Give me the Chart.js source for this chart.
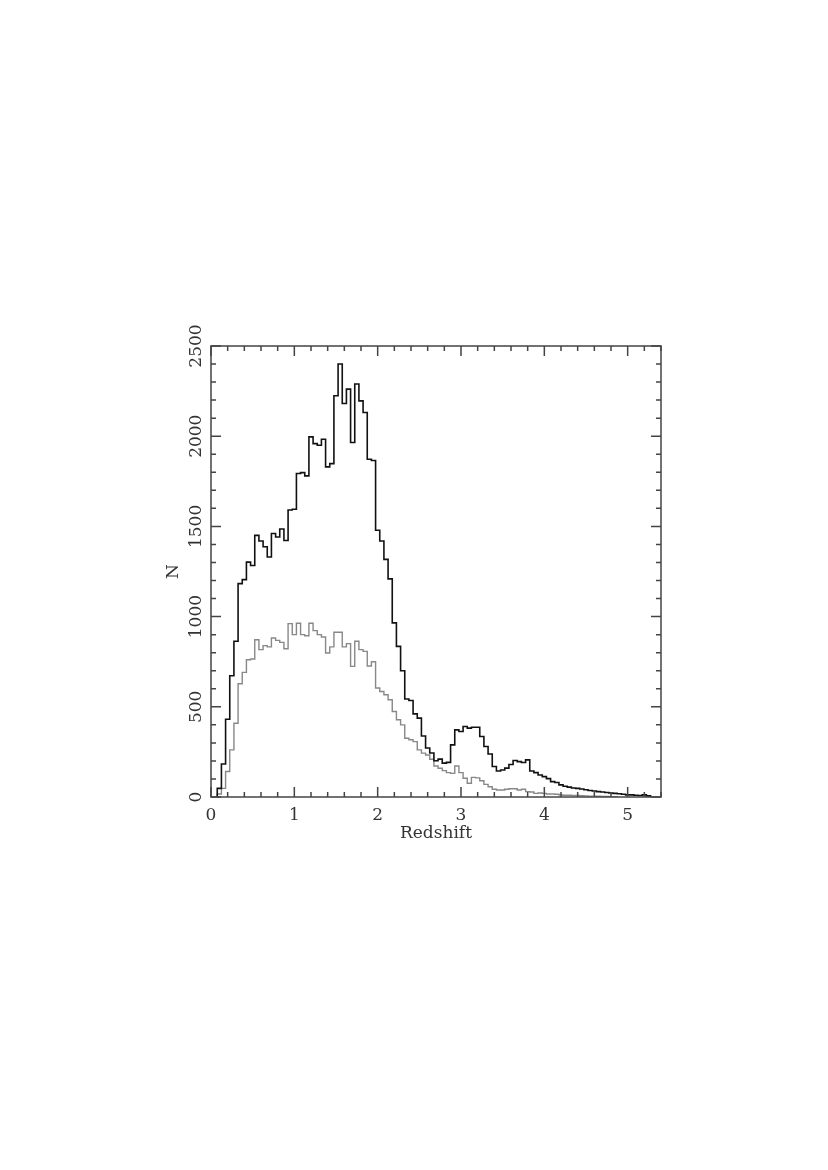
<!DOCTYPE html>
<html>
<head>
<meta charset="utf-8">
<title>Redshift distribution</title>
<script src="https://cdn.jsdelivr.net/npm/chart.js@4.4.0/dist/chart.umd.min.js"></script>
<style>
  html, body { margin: 0; padding: 0; background: #fff; }
  canvas { display: block; }
</style>
</head>
<body>
<canvas id="zChart" width="828" height="1170"></canvas>
<script>
// ========================================
// Redshift histogram (all objects vs. subsample)
// ========================================

// Histogram bins: centre of the first bin and bin width (redshift units)
const binFirstCentre = 0.1;
const binWidth = 0.05;

// Counts per bin
const allCounts = [
  48, 183, 431, 672, 863, 1183, 1205, 1302, 1283, 1450,
  1419, 1387, 1330, 1461, 1441, 1486, 1422, 1591, 1595, 1793,
  1798, 1780, 1996, 1959, 1950, 1983, 1830, 1848, 2224, 2400,
  2181, 2261, 1965, 2289, 2196, 2131, 1872, 1865, 1479, 1419,
  1317, 1209, 965, 835, 700, 543, 535, 461, 437, 338,
  272, 244, 201, 210, 188, 192, 289, 372, 363, 391,
  382, 387, 387, 335, 280, 238, 169, 144, 150, 160,
  180, 202, 196, 191, 206, 144, 135, 122, 113, 102,
  85, 80, 67, 60, 55, 50, 48, 44, 40, 36,
  33, 30, 28, 25, 22, 20, 18, 15, 12, 12,
  10, 8, 12, 6
];

const subCounts = [
  17, 48, 141, 261, 409, 628, 691, 761, 765, 872,
  817, 839, 832, 881, 868, 857, 822, 961, 900, 963,
  900, 894, 963, 922, 900, 887, 798, 832, 913, 913,
  832, 850, 724, 863, 817, 807, 726, 750, 604, 585,
  567, 539, 474, 428, 400, 326, 317, 307, 261, 243,
  233, 209, 172, 159, 146, 135, 131, 172, 135, 104,
  76, 109, 106, 90, 70, 57, 43, 39, 39, 43,
  46, 46, 39, 43, 30, 28, 20, 22, 20, 17,
  17, 15, 11, 10, 10, 8, 8, 7, 6, 5,
  5, 4, 3, 3, 2, 2
];

// Axis ticks
const xTickValues = [0, 1, 2, 3, 4, 5];
const yTickValues = [0, 500, 1000, 1500, 2000, 2500];
const xMinorStep = 0.2;
const yMinorStep = 100;

// Turn bin counts into step points (left edge of each bin)
function toSteps(counts) {
  const e0 = binFirstCentre - binWidth / 2;
  const pts = [{ x: e0, y: 0 }];
  counts.forEach((c, i) => pts.push({ x: e0 + i * binWidth, y: c }));
  pts.push({ x: e0 + counts.length * binWidth, y: 0 });
  return pts;
}

// Box frame with inward major/minor ticks on all four sides
const framePlugin = {
  id: 'frame',
  afterDatasetsDraw(chart) {
    const { ctx, chartArea: a, scales: { x, y } } = chart;
    ctx.save();
    ctx.strokeStyle = '#444';
    ctx.lineWidth = 1.5;
    ctx.strokeRect(a.left, a.top, a.right - a.left, a.bottom - a.top);
    ctx.beginPath();

    const nx = Math.round((x.max - x.min) / xMinorStep);
    for (let k = 0; k <= nx; k++) {
      const v = x.min + k * xMinorStep;
      const major = xTickValues.some(t => Math.abs(t - v) < 1e-6);
      const len = major ? 10 : 5;
      const px = x.getPixelForValue(v);
      ctx.moveTo(px, a.bottom); ctx.lineTo(px, a.bottom - len);
      ctx.moveTo(px, a.top); ctx.lineTo(px, a.top + len);
    }

    const ny = Math.round((y.max - y.min) / yMinorStep);
    for (let k = 0; k <= ny; k++) {
      const v = y.min + k * yMinorStep;
      const major = yTickValues.some(t => Math.abs(t - v) < 1e-6);
      const len = major ? 10 : 5;
      const py = y.getPixelForValue(v);
      ctx.moveTo(a.left, py); ctx.lineTo(a.left + len, py);
      ctx.moveTo(a.right, py); ctx.lineTo(a.right - len, py);
    }
    ctx.stroke();
    ctx.restore();
  }
};

Chart.defaults.font.family = "'DejaVu Serif', serif";
Chart.defaults.font.size = 17;
Chart.defaults.color = '#333';

document.addEventListener('DOMContentLoaded', () => {
  const ctx = document.getElementById('zChart');
  new Chart(ctx, {
    type: 'line',
    data: {
      datasets: [
        {
          label: 'All',
          data: toSteps(allCounts),
          borderColor: '#111',
          borderWidth: 1.6,
          stepped: 'before',
          pointRadius: 0,
          fill: false
        },
        {
          label: 'Subsample',
          data: toSteps(subCounts),
          borderColor: '#888',
          borderWidth: 1.4,
          stepped: 'before',
          pointRadius: 0,
          fill: false
        }
      ]
    },
    options: {
      responsive: false,
      animation: false,
      layout: { padding: { left: 155, right: 167, top: 346, bottom: 323 } },
      plugins: {
        legend: { display: false },
        tooltip: { enabled: false }
      },
      scales: {
        x: {
          type: 'linear',
          min: 0,
          max: 5.4,
          grid: { display: false },
          border: { display: false },
          afterBuildTicks: s => { s.ticks = xTickValues.map(v => ({ value: v })); },
          afterFit: s => { s.height = 50; },
          ticks: { padding: 0, maxRotation: 0, callback: v => String(v) },
          title: { display: true, text: 'Redshift', padding: { top: 0, bottom: 3 } }
        },
        y: {
          type: 'linear',
          min: 0,
          max: 2500,
          grid: { display: false },
          border: { display: false },
          afterBuildTicks: s => { s.ticks = yTickValues.map(v => ({ value: v })); },
          afterFit: s => { s.width = 56; },
          ticks: { padding: -15, minRotation: 90, maxRotation: 90, crossAlign: 'center', callback: v => String(v) },
          title: { display: true, text: 'N', padding: { top: 8, bottom: 0 } }
        }
      }
    },
    plugins: [framePlugin]
  });
});
</script>
</body>
</html>
